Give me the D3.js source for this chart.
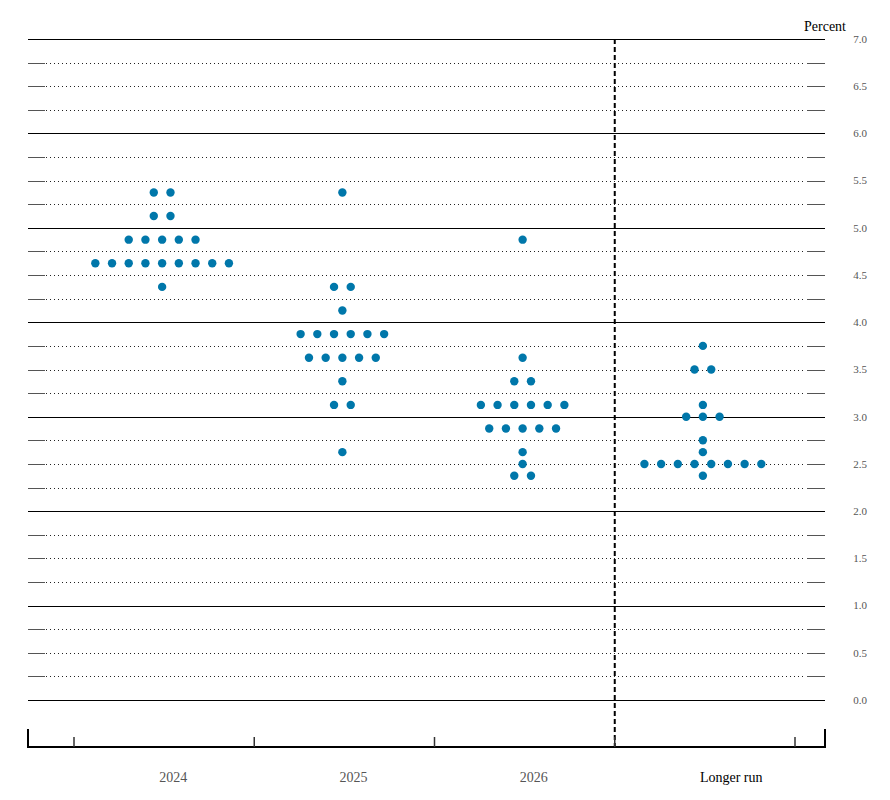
<!DOCTYPE html>
<html><head><meta charset="utf-8">
<script src="https://cdn.jsdelivr.net/npm/d3@7"></script>
<style>body{margin:0;background:#fff}svg{display:block}</style>
</head><body>
<svg id="c" width="890" height="800"></svg>
<script>
const categories = ["2024", "2025", "2026", "Longer run"];
// each entry: [rate midpoint, number of participants]
const dots2024 = [[5.375,2],[5.125,2],[4.875,5],[4.625,9],[4.375,1]];
const dots2025 = [[5.375,1],[4.375,2],[4.125,1],[3.875,6],[3.625,5],[3.375,1],[3.125,2],[2.625,1]];
const dots2026 = [[4.875,1],[3.625,1],[3.375,2],[3.125,6],[2.875,5],[2.625,1],[2.5,1],[2.375,2]];
const dotsLonger = [[3.75,1],[3.5,2],[3.125,1],[3.0,3],[2.75,1],[2.625,1],[2.5,8],[2.375,1]];
const seriesDots = [dots2024, dots2025, dots2026, dotsLonger];
const tickLabels = ["0.0","0.5","1.0","1.5","2.0","2.5","3.0","3.5","4.0","4.5","5.0","5.5","6.0","6.5","7.0"];

const svg = d3.select("#c");
const left = 28, right = 825;
const y = d3.scaleLinear().domain([0, 7]).range([700, 39]);
const xTicks = d3.scaleBand().domain(categories).range([74, 795]);
const x = d3.scaleBand().domain(categories).range([72, 793]);
const dotStep = 16.7;

// gridlines every 0.25
const grid = d3.range(0, 7.001, 0.25);
const g = svg.append("g");
grid.forEach(v => {
  const yy = Math.round(y(v)) + 0.5;
  const isInt = Math.abs(v - Math.round(v)) < 1e-6;
  if (isInt) {
    g.append("line").attr("x1", left).attr("x2", right).attr("y1", yy).attr("y2", yy)
      .attr("stroke", "#000").attr("stroke-width", 1);
  } else {
    g.append("line").attr("x1", 46).attr("x2", 806).attr("y1", yy).attr("y2", yy)
      .attr("stroke", "#222").attr("stroke-width", 1).attr("stroke-dasharray", "1,3");
    g.append("line").attr("x1", left).attr("x2", 45).attr("y1", yy).attr("y2", yy)
      .attr("stroke", "#555").attr("stroke-width", 1);
    g.append("line").attr("x1", 807).attr("x2", right).attr("y1", yy).attr("y2", yy)
      .attr("stroke", "#555").attr("stroke-width", 1);
  }
});

// right tick labels
tickLabels.forEach(t => {
  svg.append("text").attr("x", 860).attr("y", y(+t)).attr("dy", "0.35em")
    .attr("text-anchor", "middle").attr("font-family", "Liberation Serif, serif")
    .attr("font-size", 11).attr("fill", "#555").text(t);
});
svg.append("text").attr("x", 846).attr("y", 31).attr("text-anchor", "end")
  .attr("font-family", "Liberation Serif, serif").attr("font-size", 14).attr("fill", "#000").text("Percent");

// dashed separator
const sepX = xTicks("Longer run");
svg.append("line").attr("x1", sepX).attr("x2", sepX).attr("y1", y(7)).attr("y2", 747)
  .attr("stroke", "#000").attr("stroke-width", 2).attr("stroke-dasharray", "5,3");

// bottom axis
const axY = 747;
svg.append("line").attr("x1", left).attr("x2", right).attr("y1", axY).attr("y2", axY)
  .attr("stroke", "#000").attr("stroke-width", 2);
[left, right].forEach(xx => {
  svg.append("line").attr("x1", xx).attr("x2", xx).attr("y1", 729).attr("y2", axY + 1)
    .attr("stroke", "#000").attr("stroke-width", 2);
});
const inner = categories.map(c => xTicks(c)).concat([xTicks.range()[1]]);
inner.forEach(xx => {
  svg.append("line").attr("x1", xx).attr("x2", xx).attr("y1", 737).attr("y2", axY)
    .attr("stroke", "#333").attr("stroke-width", 1.5);
});

// category labels
categories.forEach((c, i) => {
  svg.append("text").attr("x", x(c) + x.bandwidth() / 2 - 3).attr("y", 782)
    .attr("font-family", "Liberation Serif, serif").attr("font-size", 14)
    .attr("fill", i === 3 ? "#000" : "#555").text(c);
});

// dots
const pts = [];
categories.forEach((c, i) => {
  const cx = x(c) + x.bandwidth() / 2;
  seriesDots[i].forEach(([v, n]) => {
    for (let k = 0; k < n; k++) {
      pts.push({x: cx + (k - (n - 1) / 2) * dotStep, y: y(v)});
    }
  });
});
svg.append("g").selectAll("circle").data(pts).join("circle")
  .attr("cx", d => d.x).attr("cy", d => d.y).attr("r", 4.2).attr("fill", "#0077aa");
</script>
</body></html>
